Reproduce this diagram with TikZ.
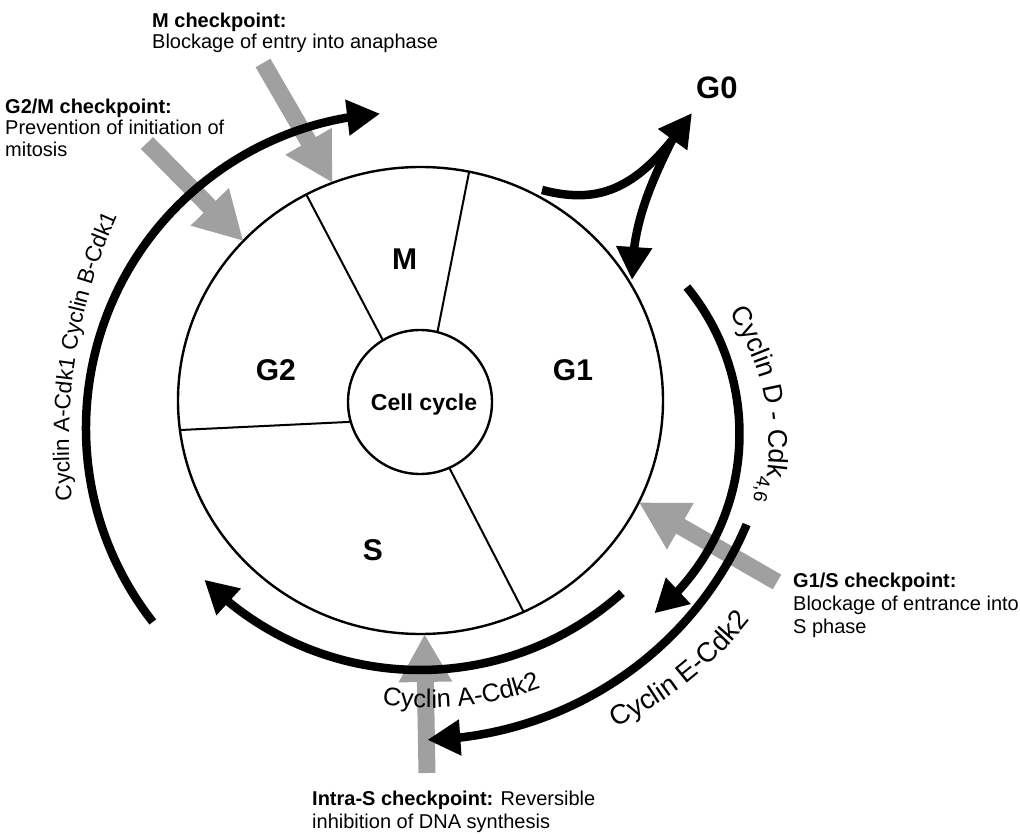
\documentclass[tikz,border=0pt]{standalone}
\usepackage{fontspec}
\setmainfont{Liberation Sans}
\usetikzlibrary{arrows.meta,bending,shapes.geometric,decorations.text,calc}
\definecolor{chkgray}{RGB}{160,160,160}
\begin{document}
\begin{tikzpicture}[x=1pt,y=1pt,
  outline/.style={draw,line width=2.4pt,inner sep=0pt,outer sep=0pt},
  divider/.style={line width=2pt},
  blk/.style={line width=8.5pt,-{Triangle[length=33pt,width=34pt]}},
  grayarrow/.style={draw=chkgray,line width=17pt,-{Triangle[length=48pt,width=50pt]}},
  phase/.style={font=\bfseries\fontsize{30}{30}\selectfont,anchor=base,inner sep=0pt},
  noteA/.style={font=\fontsize{20}{21.5}\selectfont,align=left,anchor=north west,inner sep=0pt},
  noteB/.style={font=\fontsize{20}{23}\selectfont,align=left,anchor=north west,inner sep=0pt},
]
\useasboundingbox (0,0) rectangle (1020,-834);

% main cycle
\node[outline,ellipse,minimum width=485pt,minimum height=467pt] (outer) at (420.5,-400.5) {};
\node[outline,circle,minimum size=144pt] (cc) at (420,-402) {};
\node[font=\bfseries\fontsize{23}{23}\selectfont,anchor=base,inner sep=0pt] (ccl) at (424,-410) {Cell cycle};
\draw[divider] (cc.121.5) -- (outer.119.3);
\draw[divider] (cc.76.3) -- (outer.78.7);
\draw[divider] (cc.196) -- (outer.187.3);
\draw[divider] (cc.-66.3) -- (outer.-64.5);

\node[phase] (M) at (404.7,-270) {M};
\node[phase] (G2) at (275.8,-380) {G2};
\node[phase] (G1) at (573,-380) {G1};
\node[phase] (S) at (373,-560) {S};

% checkpoint arrows
\coordinate (mS) at (263,-63);
\coordinate (gmS) at (147,-143);
\coordinate (gsS) at (777,-582);
\coordinate (isS) at (427,-773);
\draw[grayarrow] (mS) -- (outer.112.9);
\draw[grayarrow] (gmS) -- (outer.138.7);
\draw[grayarrow] (gsS) -- (outer.-25.5);
\draw[grayarrow] (isS) -- (outer.-89.6);

% cyclin arcs
\coordinate (cL) at (401,-428);
\coordinate (cDa) at (508,-434);
\coordinate (cAa) at (420,-367);
\coordinate (cEa) at (418,-390);
\draw[blk] ([shift={(218:315)}]cL) arc[start angle=218,end angle=93.8,radius=315];
\draw[blk] ([shift={(39.4:231.5)}]cDa) arc[start angle=39.4,end angle=-50.8,radius=231.5];
\draw[blk] ([shift={(-48.2:303)}]cAa) arc[start angle=-48.2,end angle=-135.4,radius=303];
\draw[blk] ($(cEa)+(-22.6:356 and 350)$) arc[start angle=-22.6,end angle=-88.5,x radius=356,y radius=350];

% G0
\coordinate (g0s) at (542,-190);
\coordinate (g0t) at (692,-113);
\coordinate (g0j) at (672,-140);
\coordinate (g1t) at (632,-280);
\draw[blk] (g0s) .. controls (600,-205) and (640,-190) .. (g0t);
\draw[blk] (g0j) .. controls (650,-185) and (632,-225) .. (g1t);
\node[font=\bfseries\fontsize{31}{31}\selectfont,anchor=base west,inner sep=0pt] (G0) at (696,-99) {G0};

% curved labels
\coordinate (tL) at (619,-441);
\coordinate (tD) at (533,-444);
\coordinate (tE) at (459,-392);
\coordinate (tA) at (430,-396);
\path[decorate,decoration={text along path,text align=center,
  text={|\fontsize{22.5}{22.5}\selectfont|Cyclin A-Cdk1 Cyclin B-Cdk1}}]
  ([shift={(192:550)}]tL) arc[start angle=192,end angle=150,radius=550];
\path[decorate,decoration={text along path,text align=center,
  text={|\fontsize{27}{27}\selectfont|Cyclin D - Cdk{\raisebox{-9pt}{\fontsize{19}{19}\selectfont 4,6}}}}]
  ([shift={(46.7:236)}]tD) arc[start angle=46.7,end angle=-27.3,radius=236];
\path[decorate,decoration={text along path,text align=center,
  text={|\fontsize{27.5}{27.5}\selectfont|Cyclin E-Cdk2}}]
  ([shift={(-72:370)}]tE) arc[start angle=-72,end angle=-31,radius=370];
\path[decorate,decoration={text along path,text align=center,
  text={|\fontsize{25.5}{25.5}\selectfont|Cyclin A-Cdk2}}]
  ([shift={(-106:312)}]tA) arc[start angle=-106,end angle=-62,radius=312];

% checkpoint texts
\node[noteA] (mtxt) at (152,-12.7) {\textbf{M checkpoint:}\\Blockage of entry into anaphase};
\node[noteA] (gmtxt) at (5,-98.7) {\textbf{G2/M checkpoint:}\\Prevention of initiation of\\mitosis};
\node[noteB] (gstxt) at (793,-572.7) {\textbf{G1/S checkpoint:}\\Blockage of entrance into\\S phase};
\node[noteB] (istxt) at (312,-790.7) {\textbf{Intra-S checkpoint:} Reversible\\inhibition of DNA synthesis};
\end{tikzpicture}
\end{document}
